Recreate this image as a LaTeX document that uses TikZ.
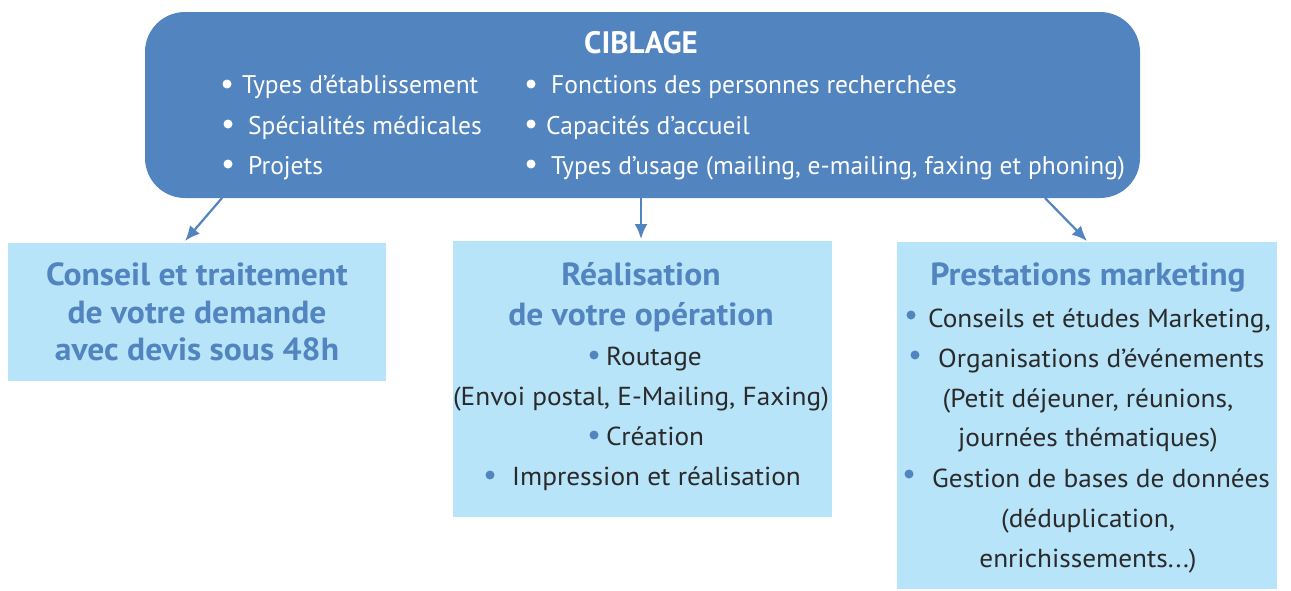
\documentclass[tikz,border=0pt]{standalone}
\usepackage{fontspec}
\setmainfont{PT Sans}
\newfontfamily\lowfont{PT Sans}[FakeStretch=1.05]
\usetikzlibrary{arrows.meta}
\definecolor{steel}{HTML}{5284C0}
\definecolor{pale}{HTML}{B8E4F9}
\definecolor{ink}{HTML}{2A2A2A}
\tikzset{
  topbox/.style={fill=steel, draw=none, rounded corners=40pt, minimum width=995pt, minimum height=186pt, inner sep=0pt},
  lowbox/.style={fill=pale, draw=none, inner sep=0pt},
  toptxt/.style={text=white, font=\fontsize{25.5}{30}\selectfont, anchor=base west, inner sep=0pt},
  ttl/.style={text=steel, font=\lowfont\fontsize{32}{36}\selectfont\bfseries, anchor=base, inner sep=0pt},
  body/.style={text=ink, font=\lowfont\fontsize{26}{30}\selectfont, anchor=base, inner sep=0pt},
  bodyw/.style={text=ink, font=\lowfont\fontsize{26}{30}\selectfont, anchor=base west, inner sep=0pt},
  wdot/.style={fill=white},
  bdot/.style={fill=steel},
  link/.style={draw=steel, line width=2.2pt, -{Latex[length=15pt,width=13pt]}}
}
\begin{document}
\begin{tikzpicture}[x=1pt,y=-1pt]
\useasboundingbox (0,0) rectangle (1291,590);
% boxes
\node[topbox] (top) at (642.5,105) {};
\node[lowbox, minimum width=378pt, minimum height=138pt] (left) at (197,312) {};
\node[lowbox, minimum width=379pt, minimum height=276pt] (mid) at (642.5,379) {};
\node[lowbox, minimum width=380pt, minimum height=347pt] (right) at (1087,415.5) {};
% top text
\node[text=white, font=\fontsize{31}{34}\selectfont\bfseries, anchor=base, inner sep=0pt] (t0) at (641,53) {CIBLAGE};
\fill[wdot] (227,84) circle (4.5);
\node[toptxt] (t1) at (242,93) {Types d’établissement};
\fill[wdot] (228,124) circle (4.5);
\node[toptxt] (t2) at (248,134) {Spécialités médicales};
\fill[wdot] (228,164) circle (4.5);
\node[toptxt] (t3) at (248,174) {Projets};
\fill[wdot] (531,84) circle (4.5);
\node[toptxt] (t4) at (551,93) {Fonctions des personnes recherchées};
\fill[wdot] (531,124) circle (4.5);
\node[toptxt] (t5) at (546,134) {Capacités d’accueil};
\fill[wdot] (531,164) circle (4.5);
\node[toptxt] (t6) at (551,174) {Types d’usage (mailing, e-mailing, faxing et phoning)};
% left box text
\node[ttl] (l1) at (197,285) {Conseil et traitement};
\node[ttl] (l2) at (197,323) {de votre demande};
\node[ttl] (l3) at (197,360) {avec devis sous 48h};
% middle box text
\node[ttl] (m1) at (641,285) {Réalisation};
\node[ttl] (m2) at (641,325) {de votre opération};
\fill[bdot] (594,355) circle (4.5);
\node[bodyw] (m3) at (606,365) {Routage};
\node[body] (m4) at (641,405) {(Envoi postal, E-Mailing, Faxing)};
\fill[bdot] (594,435) circle (4.5);
\node[bodyw] (m5) at (606,445) {Création};
\fill[bdot] (490,475) circle (4.5);
\node[bodyw] (m6) at (512,485) {Impression et réalisation};
% right box text
\node[ttl] (r1) at (1088,285) {Prestations marketing};
\fill[bdot] (911,315) circle (4.5);
\node[bodyw] (r2) at (928,327) {Conseils et études Marketing,};
\fill[bdot] (915,355) circle (4.5);
\node[bodyw] (r3) at (938,367) {Organisations d’événements};
\node[body] (r4) at (1088,407) {(Petit déjeuner, réunions,};
\node[body] (r5) at (1088,446) {journées thématiques)};
\fill[bdot] (909,474) circle (4.5);
\node[bodyw] (r6) at (932,487) {Gestion de bases de données};
\node[body] (r7) at (1088,527) {(déduplication,};
\node[body] (r8) at (1088,567) {enrichissements...)};
% connectors
\coordinate (s1) at (222,198);
\coordinate (e1) at (185,241);
\coordinate (s2) at (641,198);
\coordinate (e2) at (641,239);
\coordinate (s3) at (1045,198);
\coordinate (e3) at (1087,241);
\draw[link] (s1) -- (e1);
\draw[link] (s2) -- (e2);
\draw[link] (s3) -- (e3);
\end{tikzpicture}
\end{document}
